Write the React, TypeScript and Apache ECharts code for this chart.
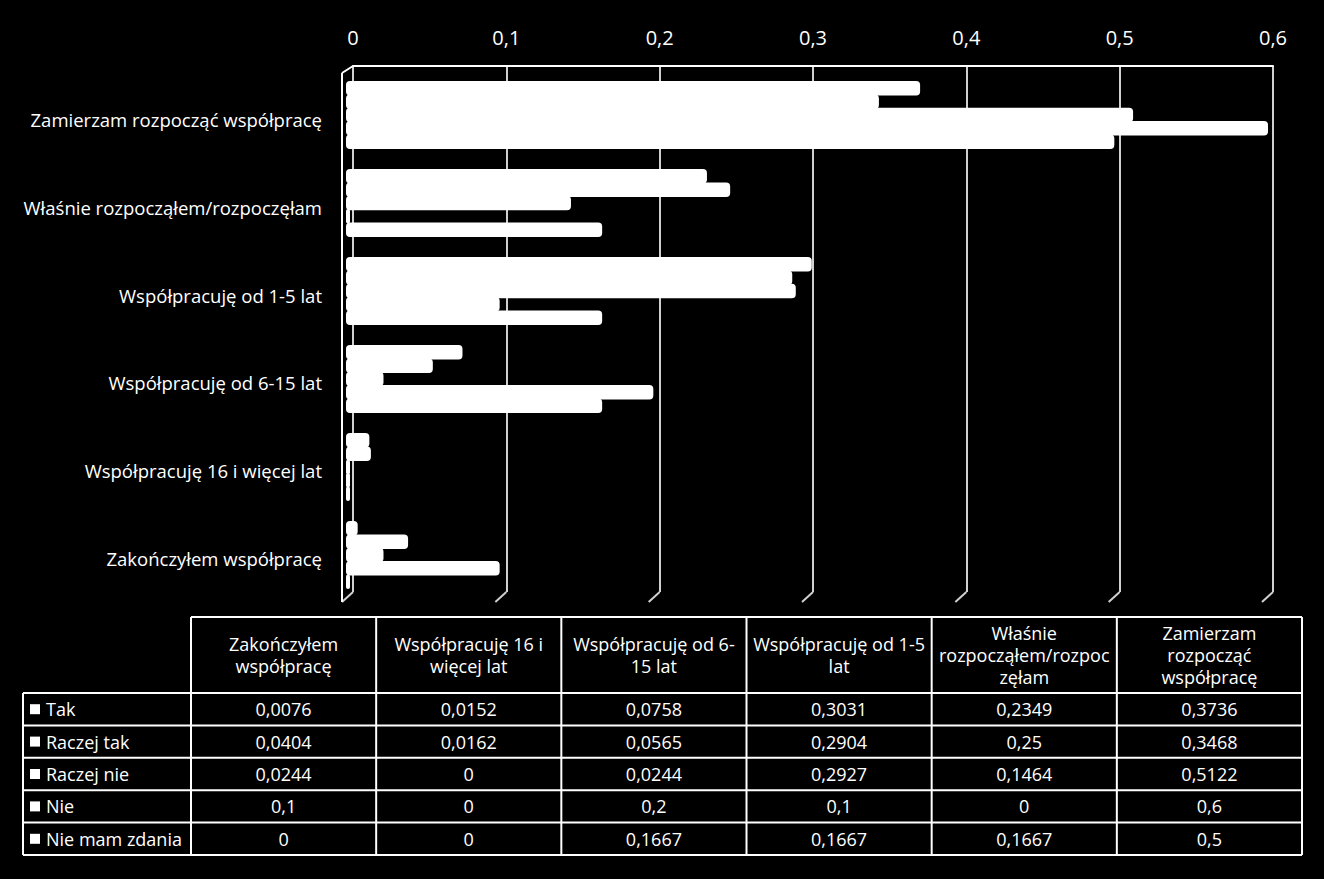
import React, { useEffect, useRef } from 'react';
import * as echarts from 'echarts';

const categories = [
  'Zakończyłem współpracę',
  'Współpracuję 16 i więcej lat',
  'Współpracuję od 6-15 lat',
  'Współpracuję od 1-5 lat',
  'Właśnie rozpocząłem/rozpoczęłam',
  'Zamierzam rozpocząć współpracę',
];
const tableHeaders = [
  'Zakończyłem\nwspółpracę',
  'Współpracuję 16 i\nwięcej lat',
  'Współpracuję od 6-\n15 lat',
  'Współpracuję od 1-5\nlat',
  'Właśnie\nrozpocząłem/rozpoc\nzęłam',
  'Zamierzam\nrozpocząć\nwspółpracę',
];
const seriesNames = ['Tak', 'Raczej tak', 'Raczej nie', 'Nie', 'Nie mam zdania'];
const tak = [0.0076, 0.0152, 0.0758, 0.3031, 0.2349, 0.3736];
const raczejTak = [0.0404, 0.0162, 0.0565, 0.2904, 0.25, 0.3468];
const raczejNie = [0.0244, 0, 0.0244, 0.2927, 0.1464, 0.5122];
const nie = [0.1, 0, 0.2, 0.1, 0, 0.6];
const nieMamZdania = [0, 0, 0.1667, 0.1667, 0.1667, 0.5];
const seriesData = [tak, raczejTak, raczejNie, nie, nieMamZdania];
const xTicks = [0, 0.1, 0.2, 0.3, 0.4, 0.5, 0.6];

const FONT = '"Open Sans", sans-serif';
const fmt = (v: number) => String(v).replace('.', ',');

export default function App() {
  const ref = useRef<HTMLDivElement>(null);
  useEffect(() => {
    document.body.style.margin = '0';
    document.body.style.background = '#000';
    const chart = echarts.init(ref.current!, null, { renderer: 'svg' });
    const xMin = xTicks[0];
    const xMax = xTicks[xTicks.length - 1];
    const step = xTicks[1] - xTicks[0];
    chart.setOption({
      animation: false,
      backgroundColor: '#000',
      textStyle: { fontFamily: FONT },
      grid: [
        { left: 353, top: 66, width: 920, height: 526 },
        { left: 346, top: 71, width: 922, height: 528 },
        { left: 346, top: 76, width: 922, height: 526 },
      ],
      xAxis: [
        {
          gridIndex: 0,
          type: 'value',
          position: 'top',
          min: xMin,
          max: xMax,
          interval: step,
          axisLine: { show: true, lineStyle: { color: '#ffffff', width: 2 } },
          axisTick: { show: false },
          axisLabel: {
            color: '#ffffff',
            fontSize: 20,
            fontFamily: FONT,
            margin: 19,
            formatter: (v: number) => fmt(Math.round(v * 10) / 10),
          },
          splitLine: { show: true, lineStyle: { color: '#d0d0d0', width: 2 } },
        },
        { gridIndex: 1, type: 'value', min: xMin, max: xMax, interval: step, show: false },
        { gridIndex: 2, type: 'value', min: xMin, max: xMax, interval: step, show: false },
      ],
      yAxis: [
        { gridIndex: 0, type: 'category', data: categories, show: false },
        { gridIndex: 1, type: 'category', data: categories, show: false },
        {
          gridIndex: 2,
          type: 'category',
          data: categories,
          axisLine: { show: false },
          axisTick: { show: false },
          splitLine: { show: false },
          axisLabel: {
            color: '#ffffff',
            fontSize: 18.5,
            fontFamily: FONT,
            margin: 24,
          },
        },
      ],
      series: seriesNames.map((name, i) => ({
        name,
        type: 'bar',
        xAxisIndex: 1,
        yAxisIndex: 1,
        data: seriesData[i],
        barWidth: 14.5,
        barGap: '-8%',
        barMinHeight: 4,
        itemStyle: {
          color: '#ffffff',
          borderRadius: 4,
        },
      })),
    });

    // 3D decorations (derived from axis positions)
    const px = (v: number) => chart.convertToPixel({ xAxisIndex: 0 }, v) as number;
    const backTop = 66;
    const backBottom = 592;
    const dx = -11;
    const dy = 10;
    const lineStyle = { stroke: '#d0d0d0', lineWidth: 2 };
    const graphics: any[] = [];
    xTicks.forEach((t) => {
      const x = px(t);
      graphics.push({
        type: 'line',
        shape: { x1: x, y1: backBottom, x2: x + dx, y2: backBottom + dy },
        style: lineStyle,
      });
    });
    const x0 = px(xMin);
    graphics.push({
      type: 'line',
      shape: { x1: x0 + dx, y1: backTop + 7, x2: x0 + dx, y2: backBottom + dy },
      style: { stroke: '#ffffff', lineWidth: 2 },
    });
    graphics.push({
      type: 'line',
      shape: { x1: x0 + dx, y1: backTop + 7, x2: x0, y2: backTop },
      style: { stroke: '#ffffff', lineWidth: 2 },
    });

    // Data table
    const tLeft = 23;
    const cLeft = 191;
    const tRight = 1302;
    const tTop = 617;
    const hBottom = 693;
    const rowH = 32.4;
    const colW = (tRight - cLeft) / categories.length;
    const tBottom = hBottom + rowH * seriesNames.length;
    const tl = { stroke: '#ffffff', lineWidth: 2 };
    graphics.push({ type: 'line', shape: { x1: cLeft, y1: tTop, x2: tRight, y2: tTop }, style: tl });
    for (let r = 0; r <= seriesNames.length; r++) {
      const y = hBottom + r * rowH;
      graphics.push({ type: 'line', shape: { x1: tLeft, y1: y, x2: tRight, y2: y }, style: tl });
    }
    graphics.push({ type: 'line', shape: { x1: tLeft, y1: hBottom, x2: tLeft, y2: tBottom }, style: tl });
    for (let c = 0; c <= categories.length; c++) {
      const x = cLeft + c * colW;
      graphics.push({ type: 'line', shape: { x1: x, y1: tTop, x2: x, y2: tBottom }, style: tl });
    }
    tableHeaders.forEach((h, c) => {
      graphics.push({
        type: 'text',
        x: cLeft + (c + 0.5) * colW,
        y: (tTop + hBottom) / 2,
        style: {
          text: h,
          fill: '#ffffff',
          font: `18px ${FONT}`,
          align: 'center',
          verticalAlign: 'middle',
          lineHeight: 22,
        },
      });
    });
    seriesNames.forEach((name, r) => {
      const cy = hBottom + (r + 0.5) * rowH;
      graphics.push({
        type: 'rect',
        shape: { x: 30, y: cy - 5, width: 10, height: 10 },
        style: { fill: '#ffffff' },
      });
      graphics.push({
        type: 'text',
        x: 46,
        y: cy,
        style: { text: name, fill: '#ffffff', font: `18px ${FONT}`, align: 'left', verticalAlign: 'middle' },
      });
      seriesData[r].forEach((v, c) => {
        graphics.push({
          type: 'text',
          x: cLeft + (c + 0.5) * colW,
          y: cy,
          style: { text: fmt(v), fill: '#ffffff', font: `18px ${FONT}`, align: 'center', verticalAlign: 'middle' },
        });
      });
    });
    chart.setOption({ graphic: graphics });
    return () => chart.dispose();
  }, []);
  return <div ref={ref} style={{ width: 1324, height: 879, background: '#000' }} />;
}
